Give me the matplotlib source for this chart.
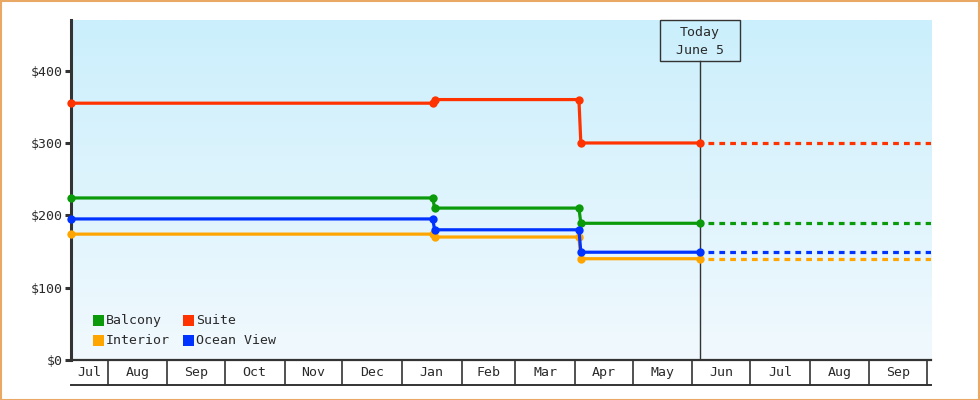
import matplotlib
matplotlib.use('Agg')
import matplotlib.pyplot as plt
import matplotlib.dates as mdates
import numpy as np
from datetime import date
from matplotlib.patches import Rectangle
from matplotlib.lines import Line2D
from matplotlib.transforms import blended_transform_factory

# ---------------- data ----------------
start_date = '2024-07-13'
end_date = '2025-10-03'
today_date = '2025-06-05'
today_lines = ['Today', 'June 5']

price_dates = ['2024-07-13', '2025-01-17', '2025-01-18', '2025-04-03', '2025-04-04', '2025-06-05']
balcony = [224, 224, 210, 210, 189, 189]
suite = [355, 355, 360, 360, 300, 300]
interior = [174, 174, 170, 170, 140, 140]
ocean_view = [195, 195, 180, 180, 149, 149]

series_names = ['Balcony', 'Suite', 'Interior', 'Ocean View']
series_values = [balcony, suite, interior, ocean_view]
series_colors = ['#0a9a0a', '#ff3300', '#ffa500', '#0033ff']

y_ticks = [0, 100, 200, 300, 400]
y_tick_labels = ['$0', '$100', '$200', '$300', '$400']
y_max = 470

# ---------------- figure ----------------
W, H = 980, 400
FONT = 'DejaVu Sans Mono'
FS = 9.5
TXT = '#2a2a2a'
AX_C = '#333333'
fig = plt.figure(figsize=(W / 100, H / 100), dpi=100)
fig.patch.set_facecolor('white')

L, R, T, B = 71, 931, 20, 360
ax = fig.add_axes([L / W, 1 - B / H, (R - L) / W, (B - T) / H])

def d2n(s):
    return mdates.date2num(np.datetime64(s))

xmin, xmax = d2n(start_date), d2n(end_date)
ax.set_xlim(xmin, xmax)
ax.set_ylim(0, y_max)

# gradient background
grad = np.linspace(0, 1, 256).reshape(-1, 1)
top_c = np.array([0xcb, 0xef, 0xfc]) / 255
bot_c = np.array([0xf1, 0xf9, 0xfe]) / 255
img = top_c * (1 - grad[..., None]) + bot_c * grad[..., None]
img = img.reshape(256, 1, 3)
ax.imshow(img, extent=[0, 1, 0, 1], transform=ax.transAxes, aspect='auto', zorder=0)
ax.set_facecolor('none')

# spines
for s in ['top', 'right']:
    ax.spines[s].set_visible(False)
ax.spines['left'].set_color(AX_C)
ax.spines['left'].set_linewidth(2.2)
ax.spines['bottom'].set_color(AX_C)
ax.spines['bottom'].set_linewidth(1.6)

# y ticks
ax.set_yticks(y_ticks)
ax.set_yticklabels(y_tick_labels, fontfamily=FONT, fontsize=FS, color=TXT)
ax.tick_params(axis='y', length=4, width=2.2, color=AX_C, pad=2)
ax.set_xticks([])

# x axis month band
trans = blended_transform_factory(ax.transData, ax.transAxes)
band = 25 / (B - T)
ax.add_line(Line2D([0, 1], [-band, -band], transform=ax.transAxes, color=AX_C,
                   lw=1.4, clip_on=False))
months = []
y0, m0 = 2024, 7
while True:
    d = date(y0, m0, 1)
    months.append(d)
    if d > date(2025, 10, 3):
        break
    m0 += 1
    if m0 > 12:
        m0 = 1
        y0 += 1
px_per_day = (R - L) / (xmax - xmin)
for i in range(len(months) - 1):
    a = mdates.date2num(months[i])
    b = mdates.date2num(months[i + 1])
    if xmin < a < xmax:
        ax.add_line(Line2D([a, a], [0, -band], transform=trans, color=AX_C,
                           lw=1.2, clip_on=False))
    lo, hi = max(a, xmin), min(b, xmax)
    if (hi - lo) * px_per_day > 25:
        ax.text((lo + hi) / 2, -band / 2, months[i].strftime('%b'), transform=trans,
                ha='center', va='center', fontfamily=FONT, fontsize=FS, color=TXT,
                clip_on=False)

# series
xd = [d2n(s) for s in price_dates]
for vals, col in zip(series_values, series_colors):
    ax.plot(xd, vals, color=col, lw=2.3, marker='o', markersize=6,
            markeredgewidth=0, zorder=4, clip_on=False, solid_capstyle='butt')
    ax.plot([xd[-1], xmax], [vals[-1], vals[-1]], color=col, lw=2.3,
            linestyle=(0.9, (1.8, 1.6)), zorder=3, dash_capstyle='butt')

# today marker
tx = d2n(today_date)
box_h = 40.7 / (B - T)
ax.add_line(Line2D([tx, tx], [0, 1 - box_h], transform=trans, color=AX_C, lw=1.0, zorder=2))
tfrac = (tx - xmin) / (xmax - xmin)
bw = 80 / (R - L)
ax.add_patch(Rectangle((tfrac - bw / 2, 1 - box_h), bw, box_h, transform=ax.transAxes,
                       facecolor='none', edgecolor=AX_C, lw=1.0, zorder=5, clip_on=False))
ax.text(tx, 1 - 12.5 / (B - T), today_lines[0], transform=trans, ha='center', va='center',
        fontfamily=FONT, fontsize=FS, color=TXT, zorder=6)
ax.text(tx, 1 - 30.5 / (B - T), today_lines[1], transform=trans, ha='center', va='center',
        fontfamily=FONT, fontsize=FS, color=TXT, zorder=6)

# legend (manual)
leg_pos = [(93, 315), (183, 315), (93, 335), (183, 335)]
for (px, py), name, col in zip(leg_pos, series_names, series_colors):
    fig.add_artist(Rectangle((px / W, 1 - (py + 11) / H), 11 / W, 11 / H,
                             transform=fig.transFigure, facecolor=col, edgecolor='none'))
    fig.text((px + 13) / W, 1 - (py + 5.5) / H, name, ha='left', va='center',
             fontfamily=FONT, fontsize=FS, color=TXT)

# figure border
fig.add_artist(Rectangle((0.5 / W, 0.5 / H), (W - 1.5) / W, (H - 1.5) / H,
                         transform=fig.transFigure, facecolor='none',
                         edgecolor='#e9a863', lw=1.5))

fig.savefig('out.png', dpi=100)
